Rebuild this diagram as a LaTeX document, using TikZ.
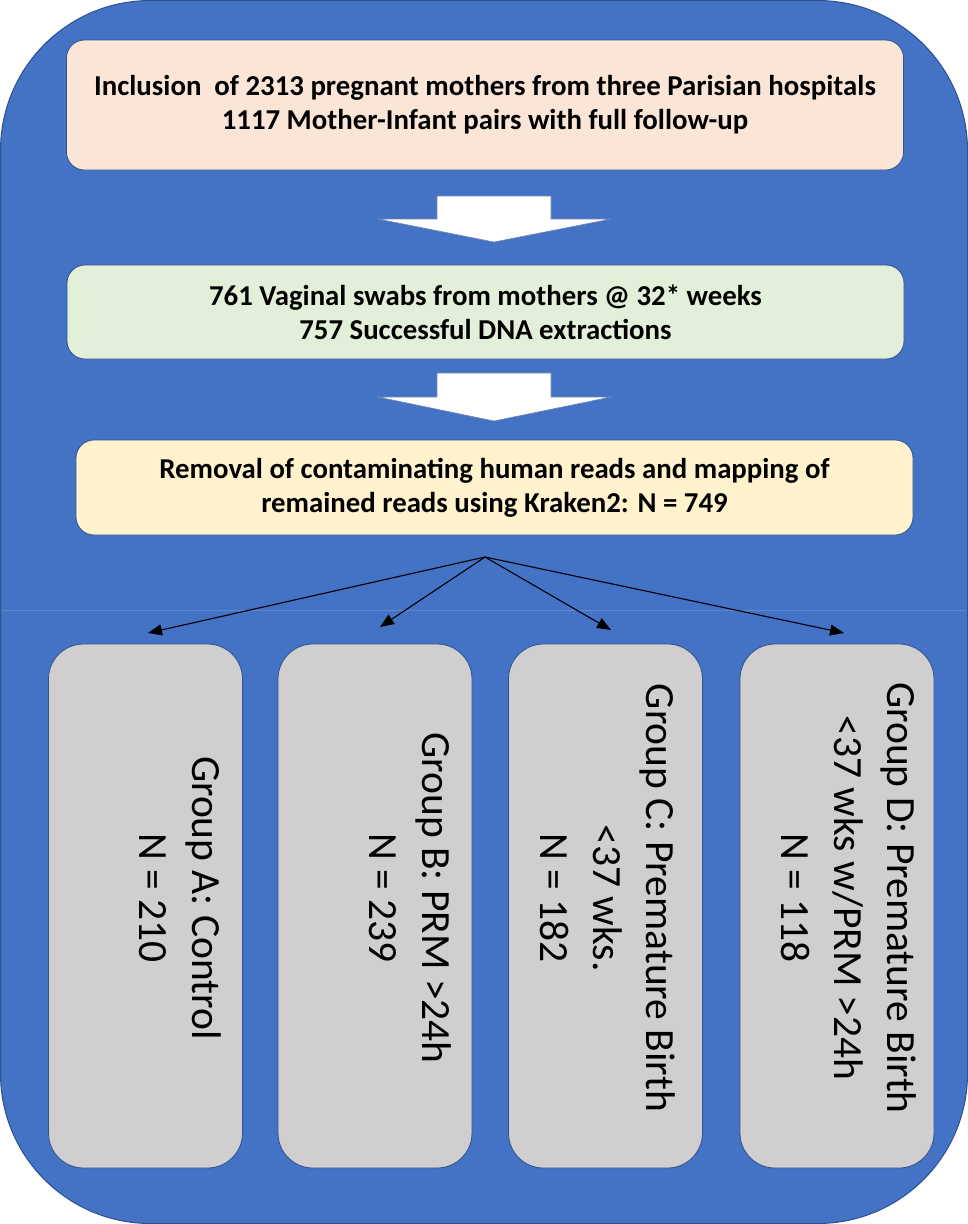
\documentclass[tikz,border=0pt]{standalone}
\usepackage{fontspec}
\setmainfont{Carlito}
\usetikzlibrary{arrows.meta}
\definecolor{bgblue}{HTML}{4472C4}
\definecolor{edgeblue}{HTML}{2F528F}
\definecolor{peach}{HTML}{FBE5D6}
\definecolor{mint}{HTML}{E2F0D9}
\definecolor{cream}{HTML}{FFF2CC}
\definecolor{greybox}{HTML}{D0CECE}
\tikzset{
  topbox/.style={draw=edgeblue, line width=0.8pt, rounded corners=18pt, inner sep=0pt,
    minimum width=837pt, align=center, font=\fontsize{28.8}{34}\selectfont\bfseries},
  groupbox/.style={draw=edgeblue, line width=0.8pt, fill=greybox, rounded corners=35pt,
    minimum width=194pt, minimum height=524pt, inner sep=0pt},
  grouptext/.style={rotate=-90, anchor=north, align=center, inner sep=0pt,
    font=\fontsize{41.5}{53}\selectfont},
  blockarrow/.style={fill=white, draw=edgeblue!70!white, line width=0.6pt},
  fanarrow/.style={draw=black, line width=1.1pt, -{Triangle[length=14pt,width=11pt]}}
}
\begin{document}
\begin{tikzpicture}[x=1pt,y=-1pt]
\useasboundingbox (0,0) rectangle (968,1224);
\fill[white] (0,0) rectangle (968,1224);
\draw[fill=bgblue, draw=edgeblue, line width=1pt, rounded corners=150pt] (0.5,0.5) rectangle (967.5,1223.5);
\draw[bgblue!85!white, line width=0.8pt] (2,610) -- (966,610);

\node[topbox, fill=peach, minimum height=130pt] (b1) at (485,105)
  {Inclusion\ \ of 2313 pregnant mothers from three Parisian hospitals\\1117 Mother-Infant pairs with full follow-up};
\node[topbox, fill=mint, minimum height=94pt] (b2) at (485.5,312)
  {761 Vaginal swabs from mothers @ 32* weeks\\757 Successful DNA extractions};
\node[topbox, fill=cream, minimum height=95pt] (b3) at (494.5,487.5)
  {Removal of contaminating human reads and mapping of\\remained reads using Kraken2: N = 749};

\filldraw[blockarrow] (437,196) -- (551,196) -- (551,219) -- (611,219) -- (494,242) -- (378,219) -- (437,219) -- cycle;
\filldraw[blockarrow] (437,373) -- (551,373) -- (551,397) -- (611,397) -- (494,421) -- (378,397) -- (437,397) -- cycle;

\coordinate (fan) at (485,557);
\coordinate (tA) at (148,633);
\coordinate (tB) at (380,627);
\coordinate (tC) at (611,630);
\coordinate (tD) at (844,633);
\draw[fanarrow] (fan) -- (tA);
\draw[fanarrow] (fan) -- (tB);
\draw[fanarrow] (fan) -- (tC);
\draw[fanarrow] (fan) -- (tD);

\node[groupbox] (gA) at (145.5,906) {};
\node[groupbox] (gB) at (375,906) {};
\node[groupbox] (gC) at (605.5,906) {};
\node[groupbox] (gD) at (837,906) {};

\node[grouptext] (tgA) at (222,898) {Group A: Control\\N = 210};
\node[grouptext] (tgB) at (452,898) {Group B: PRM >24h\\N = 239};
\node[grouptext] (tgC) at (676,898) {Group C: Premature Birth\\<37 wks.\\N = 182};
\node[grouptext] (tgD) at (917,898) {Group D: Premature Birth\\<37 wks w/PRM >24h\\N = 118};
\end{tikzpicture}
\end{document}
